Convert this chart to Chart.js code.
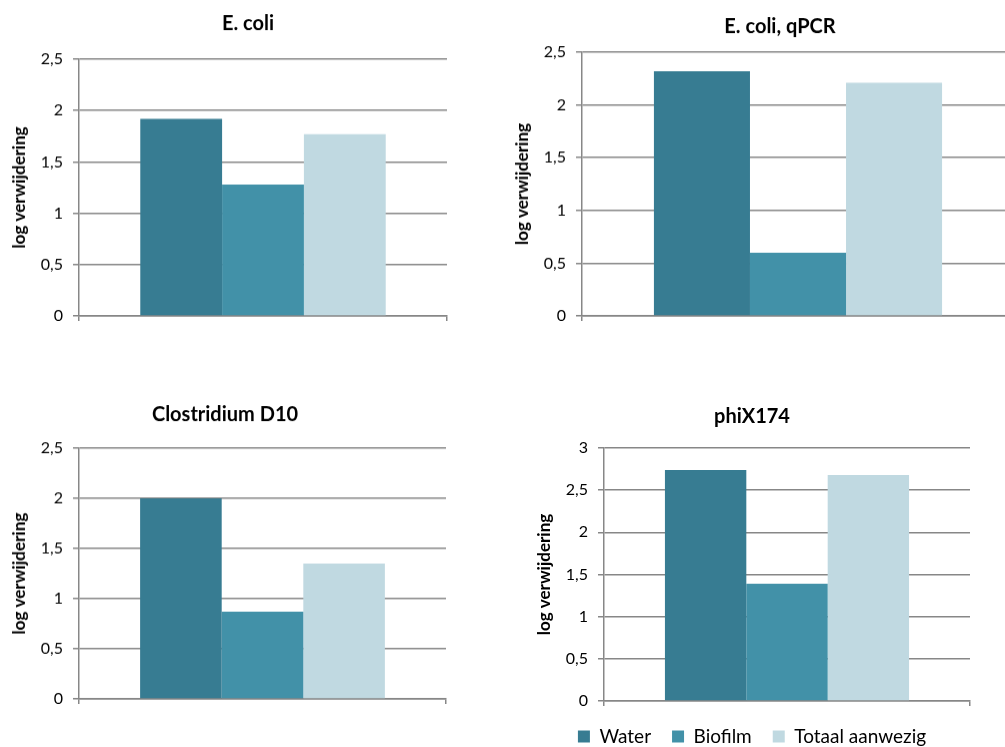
<!DOCTYPE html>
<html lang="nl">
<head>
<meta charset="utf-8">
<title>log verwijdering</title>
<script src="https://cdn.jsdelivr.net/npm/chart.js@4/dist/chart.umd.min.js"></script>
<style>
  html, body { margin: 0; padding: 0; background: #fff; overflow: hidden; }
  body { width: 1005px; height: 747px; position: relative; }
  .grafiek { position: absolute; }
</style>
</head>
<body>
<div class="grafiek" id="g0"><canvas id="c0"></canvas></div>
<div class="grafiek" id="g1"><canvas id="c1"></canvas></div>
<div class="grafiek" id="g2"><canvas id="c2"></canvas></div>
<div class="grafiek" id="g3"><canvas id="c3"></canvas></div>
<script>
// Gegevens
const categorieen = ['Water', 'Biofilm', 'Totaal aanwezig'];
const titels = ['E. coli', 'E. coli, qPCR', 'Clostridium D10', 'phiX174'];
const waterWaarden = [1.92, 2.32, 2.0, 2.74];
const biofilmWaarden = [1.28, 0.60, 0.87, 1.39];
const totaalWaarden = [1.77, 2.21, 1.35, 2.68];
const yMaxima = [2.5, 2.5, 2.5, 3];
const yAsTitel = 'log verwijdering';

// Kleuren
const kleuren = ['#377c92', '#4291a8', '#c0d9e1'];
const grijs = '#878787';

// Plaats van elk plotvlak op de pagina (l, t, r, b) en middelpunt van de titel
const plotVlakken = [
  { l: 79, t: 59, r: 447, b: 315, tx: 248, ty: 24 },
  { l: 582, t: 52, r: 1014, b: 315, tx: 780, ty: 27 },
  { l: 79, t: 448, r: 446, b: 698, tx: 225, ty: 415 },
  { l: 604, t: 448, r: 970, b: 701, tx: 752, ty: 417 }
];

const yAsBreedte = 79;
const titelGrootte = 20;
const tickGrootte = 16;
const asTitelGrootte = 17;
const legendaPadding = 21;
const legendaHoogte = 19 + legendaPadding + 10;

function maakGrafiek(i) {
  const p = plotVlakken[i];
  const metLegenda = (i === 3);
  const links = p.l - yAsBreedte;
  const boven = p.ty - 20;
  const breedte = 2 * (p.tx - links);
  const rechtsRuimte = breedte - (p.r - links);
  const xAsHoogte = metLegenda ? 5 : 2;
  // onder het plotvlak: legenda, of de halve hoogte van het onderste label
  const onder = metLegenda ? p.b + xAsHoogte + legendaHoogte + 10 : p.b + tickGrootte * 0.6 + 10;

  const div = document.getElementById('g' + i);
  div.style.left = links + 'px';
  div.style.top = boven + 'px';
  div.style.width = breedte + 'px';
  div.style.height = (onder - boven) + 'px';

  const lh = titelGrootte * 1.2;
  const titelBoven = 20 - lh / 2;
  const titelOnder = p.t - boven - titelBoven - lh;

  const reeksen = [waterWaarden, biofilmWaarden, totaalWaarden];

  new Chart(document.getElementById('c' + i), {
    type: 'bar',
    data: {
      labels: [''],
      datasets: categorieen.map((naam, k) => ({
        label: naam,
        data: [reeksen[k][i]],
        backgroundColor: kleuren[k],
        borderWidth: 0,
        categoryPercentage: 0.667,
        barPercentage: 1
      }))
    },
    options: {
      responsive: true,
      maintainAspectRatio: false,
      animation: false,
      layout: {
        padding: { left: 0, top: 0, right: 0, bottom: 10 }
      },
      plugins: {
        title: {
          display: true,
          text: titels[i],
          color: '#000',
          font: { family: 'Lato', size: titelGrootte, weight: 'bold' },
          padding: { top: titelBoven, bottom: titelOnder }
        },
        legend: {
          display: metLegenda,
          position: 'bottom',
          labels: {
            color: '#000',
            font: { family: 'Lato', size: 19 },
            boxWidth: 12,
            boxHeight: 12,
            padding: legendaPadding
          }
        },
        tooltip: { enabled: false }
      },
      scales: {
        x: {
          grid: {
            display: true,
            drawOnChartArea: false,
            drawTicks: true,
            tickLength: 5,
            color: grijs,
            lineWidth: 1.5
          },
          border: { display: true, color: grijs, width: 1.5 },
          ticks: { display: false },
          afterFit: (as) => { as.height = xAsHoogte; }
        },
        y: {
          min: 0,
          max: yMaxima[i],
          grid: {
            color: grijs,
            lineWidth: 1.5,
            tickLength: 6
          },
          border: { display: true, color: grijs, width: 1.5 },
          ticks: {
            stepSize: 0.5,
            padding: 10,
            color: '#000',
            font: { family: 'Lato', size: tickGrootte },
            callback: (v) => String(v).replace('.', ',')
          },
          title: {
            display: true,
            text: yAsTitel,
            color: '#000',
            font: { family: 'Lato', size: asTitelGrootte, weight: 'bold' },
            padding: { top: 20 - asTitelGrootte * 0.6, bottom: 0 }
          },
          afterFit: (as) => { as.width = yAsBreedte; }
        },
        // lege as rechts, zodat titel en legenda over de hele breedte gecentreerd blijven
        ruimte: {
          type: 'linear',
          position: 'right',
          grid: { display: false, drawTicks: false },
          border: { display: false },
          ticks: { display: false },
          afterFit: (as) => { as.width = rechtsRuimte; }
        }
      }
    }
  });
}

for (let i = 0; i < titels.length; i++) {
  maakGrafiek(i);
}
</script>
</body>
</html>
